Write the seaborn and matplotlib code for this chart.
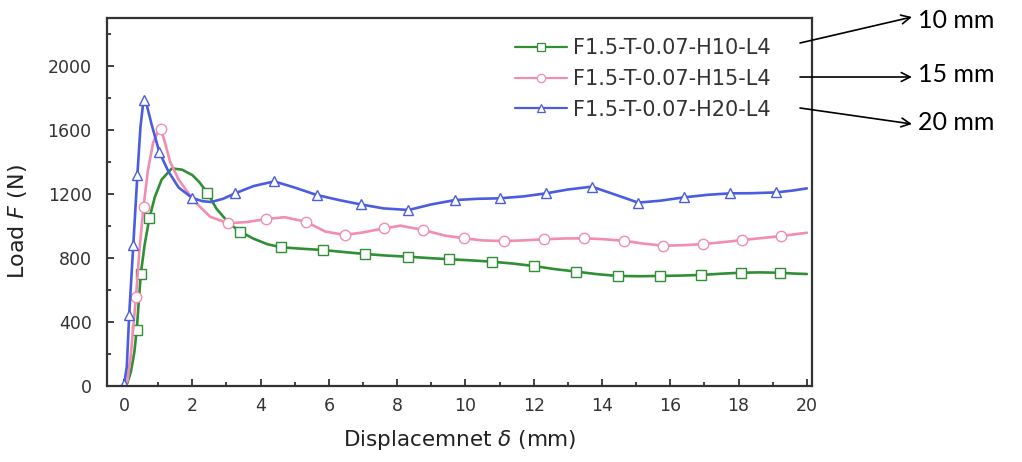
import numpy as np
import pandas as pd
import matplotlib
matplotlib.use("Agg")
import matplotlib.pyplot as plt
from matplotlib.lines import Line2D
from matplotlib.ticker import MultipleLocator
import seaborn as sns

# Load-displacement records for the three foam heights (displacement in mm, load in N)
h10_disp = [0.0, 0.1, 0.2, 0.3, 0.37, 0.49, 0.6, 0.74, 0.9, 1.1, 1.4, 1.7, 2.0, 2.2,
            2.44, 2.7, 2.9, 3.1, 3.4, 3.8, 4.2, 4.6, 5.2, 5.82, 6.4, 7.06, 7.7, 8.33,
            8.9, 9.53, 10.1, 10.77, 11.4, 12.0, 12.6, 13.24, 13.9, 14.47, 15.1, 15.7,
            16.3, 16.9, 17.5, 18.07, 18.6, 19.2, 19.6, 20.0]
h10_load = [0, 20, 90, 210, 350, 700, 880, 1048, 1180, 1290, 1360, 1352, 1318, 1275,
            1208, 1110, 1060, 1012, 965, 920, 886, 867, 858, 850, 838, 825, 815, 808,
            800, 792, 786, 777, 765, 750, 731, 715, 698, 688, 686, 688,
            690, 694, 702, 708, 710, 708, 703, 700]
h10_marks = [0.37, 0.49, 0.74, 2.44, 3.4, 4.6, 5.82, 7.06, 8.33, 9.53, 10.77, 12.0,
             13.24, 14.47, 15.7, 16.9, 18.07, 19.2]

h15_disp = [0.0, 0.1, 0.2, 0.35, 0.45, 0.57, 0.7, 0.85, 1.0, 1.08, 1.2, 1.35, 1.6,
            1.9, 2.12, 2.52, 3.05, 3.6, 4.15, 4.7, 5.32, 5.9, 6.47, 7.0, 7.61, 8.1,
            8.76, 9.4, 9.96, 10.5, 11.13, 11.7, 12.3, 12.9, 13.47, 14.0, 14.64, 15.2,
            15.79, 16.4, 16.95, 17.5, 18.1, 18.7, 19.25, 20.0]
h15_load = [0, 30, 200, 558, 850, 1121, 1350, 1520, 1595, 1606, 1520, 1400, 1290,
            1200, 1142, 1058, 1017, 1025, 1043, 1055, 1027, 965, 944, 960, 985, 1002,
            975, 940, 923, 910, 906, 910, 917, 922, 923, 918, 908, 890,
            877, 880, 887, 898, 912, 925, 937, 958]
h15_marks = [0.35, 0.57, 1.08, 3.05, 4.15, 5.32, 6.47, 7.61, 8.76, 9.96, 11.13, 12.3,
             13.47, 14.64, 15.79, 16.95, 18.1, 19.25]

h20_disp = [0.0, 0.08, 0.15, 0.27, 0.39, 0.48, 0.57, 0.66, 0.8, 1.03, 1.3, 1.6, 2.0,
            2.3, 2.55, 2.9, 3.25, 3.8, 4.4, 5.0, 5.64, 6.3, 6.93, 7.6, 8.33, 9.0, 9.69,
            10.35, 11.0, 11.7, 12.36, 13.0, 13.7, 14.4, 15.06, 15.7, 16.4, 17.1, 17.75,
            18.4, 19.1, 19.6, 20.0]
h20_load = [10, 120, 444, 881, 1319, 1620, 1787, 1760, 1640, 1464, 1340, 1240, 1175,
            1155, 1150, 1170, 1204, 1250, 1279, 1240, 1194, 1162, 1135, 1110, 1100, 1135,
            1162, 1170, 1173, 1185, 1204, 1228, 1246, 1195, 1146, 1158, 1179, 1195, 1204,
            1205, 1210, 1222, 1235]
h20_marks = [0.0, 0.15, 0.27, 0.39, 0.57, 1.03, 2.0, 3.25, 4.4, 5.64, 6.93, 8.33,
             9.69, 11.0, 12.36, 13.7, 15.06, 16.4, 17.75, 19.1]

labels = ["F1.5-T-0.07-H10-L4", "F1.5-T-0.07-H15-L4", "F1.5-T-0.07-H20-L4"]
heights = ["10 mm", "15 mm", "20 mm"]

series = [
    (h10_disp, h10_load, h10_marks, "#2f8f34", "s"),
    (h15_disp, h15_load, h15_marks, "#f18db0", "o"),
    (h20_disp, h20_load, h20_marks, "#4a5ce0", "^"),
]

sns.set_style("ticks")
plt.rcParams["font.family"] = ["DejaVu Sans"]
plt.rcParams["mathtext.fontset"] = "dejavusans"

fig = plt.figure(figsize=(10.22, 4.62), dpi=100)
ax = fig.add_axes([107 / 1022, 76 / 462, 705 / 1022, 368 / 462])

handles = []
for (disp, load, marks, color, mk), label in zip(series, labels):
    frame = pd.DataFrame({"disp": disp, "load": load})
    idx = [disp.index(v) for v in marks]
    sns.lineplot(data=frame, x="disp", y="load", ax=ax, color=color, lw=1.9,
                 sort=False, estimator=None, marker=mk, markevery=idx,
                 markersize=7.5, markerfacecolor="white", markeredgecolor=color,
                 markeredgewidth=1.0, legend=False)
    handles.append(Line2D([], [], color=color, lw=1.6, marker=mk, markersize=6,
                          markerfacecolor="white", markeredgecolor=color,
                          markeredgewidth=0.9, label=label))

ax.set_xlim(-0.5, 20.15)
ax.set_ylim(0, 2300)
ax.xaxis.set_major_locator(MultipleLocator(2))
ax.xaxis.set_minor_locator(MultipleLocator(1))
ax.yaxis.set_major_locator(MultipleLocator(400))
ax.yaxis.set_minor_locator(MultipleLocator(200))
ax.set_yticks(range(0, 2001, 400))
ax.tick_params(which="both", direction="in", top=False, right=False,
               colors="#333333", width=1.3)
ax.tick_params(which="major", length=5, labelsize=12.5)
ax.tick_params(axis="y", which="major", pad=11)
ax.tick_params(axis="x", which="major", pad=8)
ax.tick_params(which="minor", length=3)
for s in ax.spines.values():
    s.set_color("#333333")
    s.set_linewidth(1.6)

ax.set_xlabel(r"Displacemnet $\delta$ (mm)", fontsize=15.5, color="#222222", labelpad=9)
ax.set_ylabel(r"Load $F$ (N)", fontsize=16, color="#222222")
ax.yaxis.set_label_coords((29 - 107) / 705, (386 - 222) / 368)

leg = ax.legend(handles=handles, loc="upper left",
                bbox_to_anchor=((515 - 107) / 705, (386 - 38) / 368),
                frameon=False, fontsize=15, handlelength=2.5, handletextpad=0.3,
                labelspacing=0.52, borderpad=0, borderaxespad=0)
for t in leg.get_texts():
    t.set_color("#333333")

# Height call-outs to the right of the legend entries
label_font = ["Lato", "DejaVu Sans"]
arrow_tails = [(800, 43), (800, 77), (800, 108)]
arrow_heads = [(912, 17), (912, 77), (912, 124)]
text_pos = [(918, 20), (918, 75), (918, 122)]
for txt, tail, head, pos in zip(heights, arrow_tails, arrow_heads, text_pos):
    ax.annotate("", xy=(head[0] / 1022, 1 - head[1] / 462),
                xytext=(tail[0] / 1022, 1 - tail[1] / 462),
                xycoords="figure fraction", textcoords="figure fraction",
                arrowprops=dict(arrowstyle="->", lw=1.2, color="black",
                                mutation_scale=16, shrinkA=0, shrinkB=0),
                annotation_clip=False)
    fig.text(pos[0] / 1022, 1 - pos[1] / 462, txt, fontsize=18,
             family=label_font, color="black", ha="left", va="center")

fig.savefig("out.png", dpi=100)
